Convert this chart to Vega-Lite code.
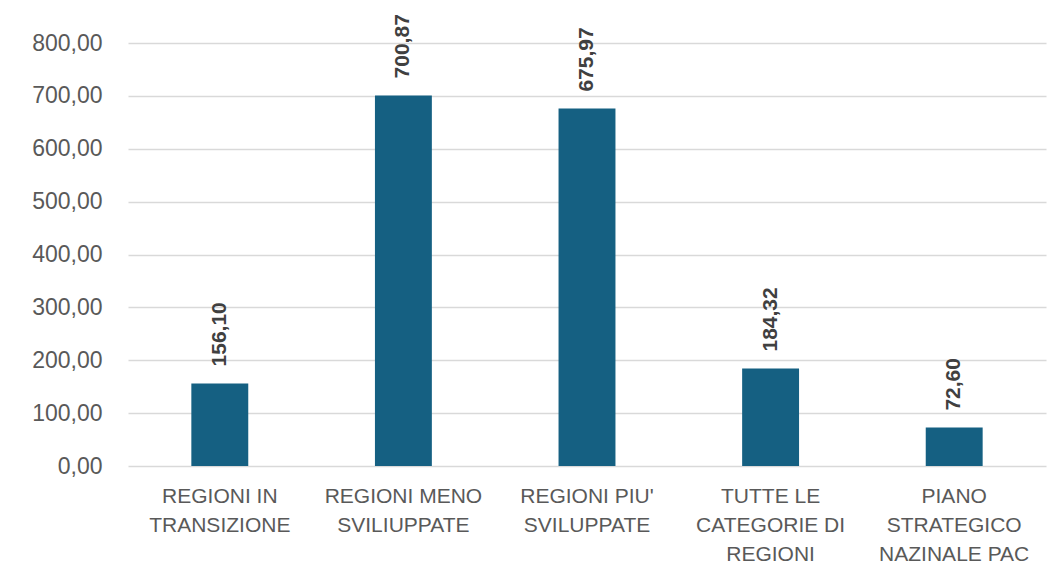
{
  "$schema": "https://vega.github.io/schema/vega-lite/v6.json",
  "width": 918,
  "height": 423,
  "autosize": {"type": "none"},
  "padding": {"left": 128, "top": 43, "right": 18, "bottom": 113},
  "background": "white",
  "config": {
    "view": {"stroke": null},
    "locale": {"number": {"decimal": ",", "thousands": ".", "grouping": [3], "currency": ["€", ""]}},
    "font": "Liberation Sans"
  },
  "data": {
    "values": [
      {"categoria": "REGIONI IN|TRANSIZIONE", "valore": 156.10},
      {"categoria": "REGIONI MENO|SVILIUPPATE", "valore": 700.87},
      {"categoria": "REGIONI PIU'|SVILUPPATE", "valore": 675.97},
      {"categoria": "TUTTE LE|CATEGORIE DI|REGIONI", "valore": 184.32},
      {"categoria": "PIANO|STRATEGICO|NAZINALE PAC", "valore": 72.60}
    ]
  },
  "encoding": {
    "x": {
      "field": "categoria",
      "type": "nominal",
      "sort": null,
      "scale": {"paddingInner": 0.69, "paddingOuter": 0.345},
      "axis": {
        "title": null,
        "labelAngle": 0,
        "labelExpr": "split(datum.label, '|')",
        "labelFont": "Liberation Sans",
        "labelFontSize": 21,
        "labelColor": "#595959",
        "labelLineHeight": 29,
        "labelPadding": 19,
        "labelBaseline": "top",
        "ticks": false,
        "domain": false,
        "labelLimit": 300
      }
    },
    "y": {
      "field": "valore",
      "type": "quantitative",
      "scale": {"domain": [0, 800], "nice": false},
      "axis": {
        "title": null,
        "values": [0, 100, 200, 300, 400, 500, 600, 700, 800],
        "format": ".2f",
        "labelFont": "Liberation Sans",
        "labelFontSize": 23,
        "labelColor": "#595959",
        "labelPadding": 26,
        "ticks": false,
        "domain": false,
        "gridColor": "#d9d9d9",
        "gridWidth": 1.6
      }
    }
  },
  "layer": [
    {"mark": {"type": "bar", "color": "#156082"}},
    {
      "mark": {
        "type": "text",
        "angle": -90,
        "align": "left",
        "baseline": "middle",
        "dx": 17,
        "font": "Liberation Sans",
        "fontSize": 21,
        "fontWeight": "bold",
        "color": "#404040"
      },
      "encoding": {"text": {"field": "valore", "type": "quantitative", "format": ".2f"}}
    }
  ]
}
